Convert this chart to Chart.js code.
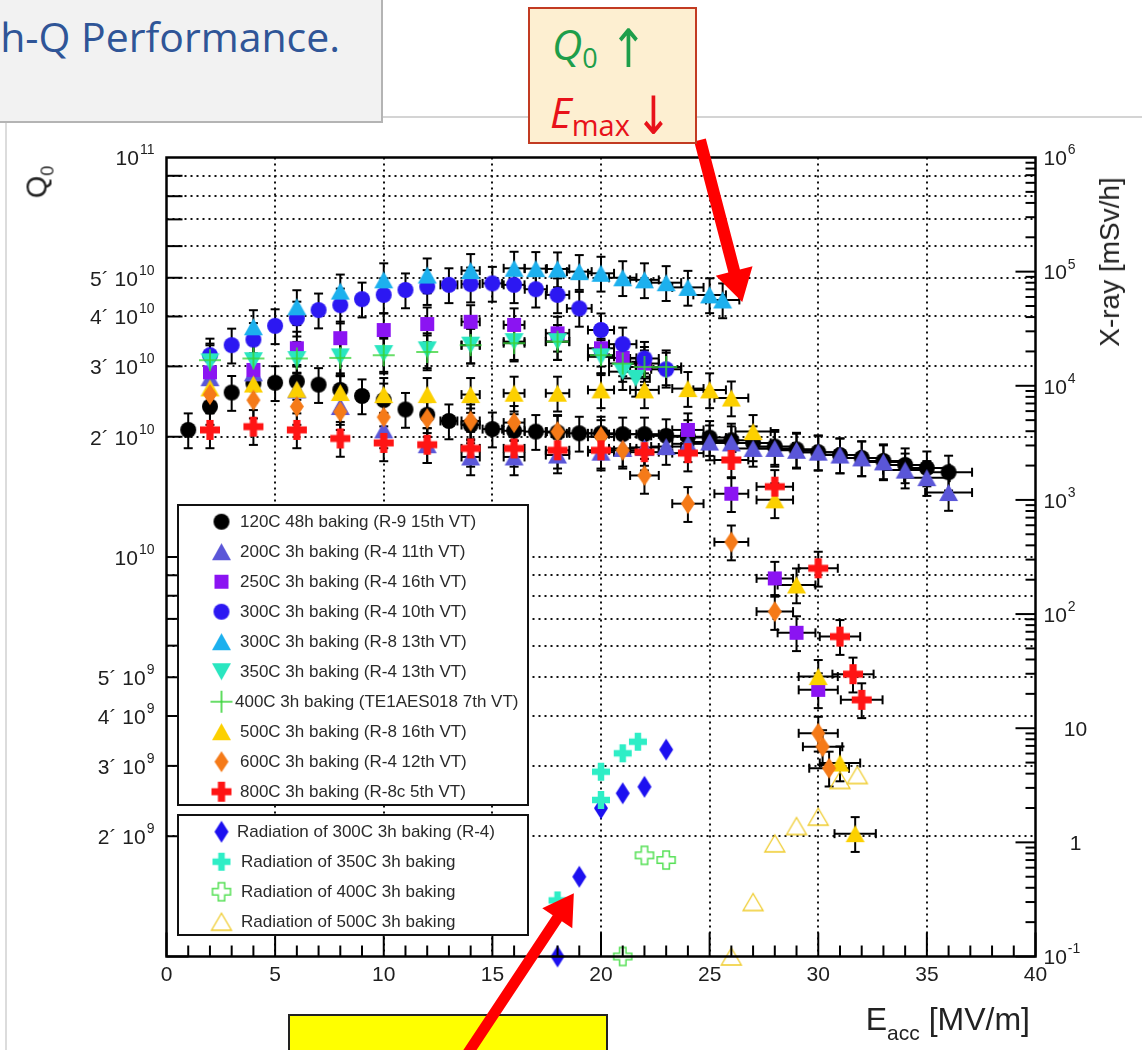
<!DOCTYPE html>
<html>
<head>
<meta charset="utf-8">
<script src="https://cdn.jsdelivr.net/npm/chart.js@4.4.1/dist/chart.umd.min.js"></script>
<style>
  body { margin: 0; width: 1142px; height: 1050px; overflow: hidden; background: #fff; font-family: "Liberation Sans", Arial, sans-serif; }
  #page { position: relative; width: 1142px; height: 1050px; }
  #plot { position: absolute; left: 0; top: 0; }
  .abs { position: absolute; white-space: nowrap; line-height: 1; }
  #titleBox { position: absolute; left: 0; top: 0; width: 381px; height: 121px; background: #f2f2f2; border-right: 2px solid #b4b4b4; border-bottom: 2px solid #b4b4b4; overflow: hidden; }
  #noteBox { position: absolute; left: 528px; top: 7px; width: 169px; height: 137px; box-sizing: border-box; background: #fdefd1; border: 2.5px solid #c23b22; font-family: "Open Sans", sans-serif; }
  #yellowBox { position: absolute; left: 288px; top: 1014px; width: 320px; height: 60px; box-sizing: border-box; background: #ffff00; border: 2px solid #222; }
  .arrowGlyph { font-family: "DejaVu Sans", sans-serif; font-size: 44px; position: absolute; line-height: 1; transform: scaleY(1.2); }
  .legendText { position: absolute; font-size: 17px; color: #2a2a2a; line-height: 20px; white-space: nowrap; }
</style>
</head>
<body>
<div id="page">
  <div id="yellowBox"></div>
  <canvas id="plot" width="1142" height="1050"></canvas>

  <div style="position:absolute;left:381px;top:116px;width:761px;height:2px;background:#d4d4d4"></div>
  <div style="position:absolute;left:5px;top:123px;width:2px;height:927px;background:#dcdcdc"></div>

  <div id="titleBox">
    <span class="abs" style="right:41px;top:16px;font-family:'Open Sans',sans-serif;font-size:41px;color:#2f5597">h-Q Performance.</span>
  </div>

  <div id="noteBox">
    <span class="abs" style="left:22px;top:14px;font-size:42px;color:#1e9e4a"><i>Q</i><span style="font-size:27px;position:relative;top:8px">0</span></span>
    <span class="arrowGlyph" style="left:80px;top:18px;color:#1e9e4a">↑</span>
    <span class="abs" style="left:20px;top:82px;font-size:42px;color:#e8121a"><i>E</i><span style="font-size:29px;position:relative;top:8px">max</span></span>
    <span class="arrowGlyph" style="left:105px;top:85px;color:#e8121a">↓</span>
  </div>

  <div class="abs" style="left:37px;top:182px;font-size:29px;color:#222;transform:translate(-50%,-50%) rotate(-90deg)">Q<span style="font-size:18px;position:relative;top:7px">0</span></div>
  <div class="abs" style="left:1110px;top:262px;font-size:28px;color:#222;transform:translate(-50%,-50%) rotate(-90deg)">X-ray [mSv/h]</div>
  <div class="abs" style="right:112px;top:1003px;font-size:32px;color:#222">E<span style="font-size:21px;position:relative;top:10px">acc</span> [MV/m]</div>
</div>

<script>
// Eacc [MV/m] and Q0 [x 1e10] per measurement
const E_120C = [1,2,3,4,5,6,7,8,9,10,11,12,13,14,15,16,17,18,19,20,21,22,23,24,25,26,27,28,29,30,31,32,33,34,35,36];
const Q_120C = [2.08,2.38,2.58,2.72,2.73,2.75,2.70,2.62,2.53,2.47,2.34,2.27,2.19,2.14,2.09,2.07,2.06,2.05,2.04,2.04,2.03,2.03,2.01,2.00,1.99,1.96,1.93,1.89,1.86,1.83,1.80,1.77,1.74,1.70,1.67,1.63];

const E_200C = [2,4,6,8,10,12,14,16,18,20,21,22,23,24,25,26,27,28,29,30,31,32,33,34,35,36];
const Q_200C = [2.81,2.89,2.62,2.38,2.08,1.91,1.78,1.78,1.80,1.83,1.87,1.88,1.89,1.92,1.94,1.93,1.87,1.87,1.85,1.83,1.80,1.77,1.73,1.65,1.58,1.45];

const E_250C = [2,4,6,8,10,12,14,16,18,20,21,22,24,26,28,29,30];
const Q_250C = [2.90,2.94,3.33,3.53,3.70,3.83,3.88,3.81,3.63,3.33,3.15,3.05,2.08,1.44,0.884,0.646,0.465];

const E_300C_R4 = [2,3,4,5,6,7,8,9,10,11,12,13,14,15,16,17,18,19,20,21,22,23];
const Q_300C_R4 = [3.20,3.39,3.50,3.79,3.96,4.15,4.27,4.42,4.53,4.66,4.75,4.80,4.82,4.84,4.80,4.68,4.53,4.19,3.70,3.41,3.14,2.95];

const E_300C_R8 = [4,6,8,10,12,14,16,17,18,19,20,21,22,23,24,25,25.6];
const Q_300C_R8 = [3.77,4.23,4.63,4.94,5.08,5.21,5.28,5.27,5.26,5.18,5.13,5.00,4.94,4.86,4.73,4.53,4.40];

const E_350C = [2,4,6,8,10,12,14,16,18,20,21,21.6];
const Q_350C = [3.08,3.10,3.12,3.17,3.23,3.30,3.39,3.46,3.46,3.17,2.91,2.80];

const E_400C = [2,4,6,8,10,12,14,16,18,20,21,22,23];
const Q_400C = [3.11,3.14,3.14,3.15,3.20,3.26,3.39,3.43,3.46,3.20,3.05,2.99,2.99];

const E_500C = [2,4,6,8,10,12,14,16,18,20,22,24,25,26,27,28,29,30,31,31.7];
const Q_500C = [2.65,2.71,2.63,2.58,2.55,2.55,2.55,2.57,2.57,2.62,2.62,2.64,2.62,2.50,2.06,1.39,0.851,0.502,0.305,0.203];

const E_600C = [2,4,6,8,10,12,14,16,18,20,21,22,24,26,28,30,30.2,30.5];
const Q_600C = [2.55,2.47,2.38,2.31,2.24,2.22,2.19,2.17,2.06,2.00,1.85,1.60,1.36,1.09,0.730,0.362,0.335,0.296];

const E_800C = [2,4,6,8,10,12,14,16,18,20,22,24,26,28,30,31,31.6,32];
const Q_800C = [2.08,2.12,2.08,1.98,1.93,1.91,1.87,1.87,1.85,1.85,1.83,1.82,1.75,1.50,0.937,0.632,0.509,0.439];

// radiation, X-ray [mSv/h] on the right axis
const E_RAD_300C = [18,19,20,21,22,23];
const X_RAD_300C = [0.1,0.5,1.99,2.69,3.07,6.5];
const E_RAD_350C = [18,20,20,21,21.7];
const X_RAD_350C = [0.31,2.35,4.16,6.03,7.62];
const E_RAD_400C = [21,22,23];
const X_RAD_400C = [0.1,0.77,0.70];
const E_RAD_500C = [26,27,28,29,30,31,31.8];
const X_RAD_500C = [0.1,0.30,0.98,1.39,1.68,3.52,3.89];

// measurement errors (relative)
const ERR_Q = 0.10;
const ERR_E = 0.03;

// axis ticks and labels ('^' starts the exponent)
const X_TICKS = [0,5,10,15,20,25,30,35,40];
const X_TICK_LABELS = ['0','5','10','15','20','25','30','35','40'];
const Q_TICKS = [2e9,3e9,4e9,5e9,1e10,2e10,3e10,4e10,5e10,1e11];
const Q_TICK_LABELS = ['2´ 10^9','3´ 10^9','4´ 10^9','5´ 10^9','10^10','2´ 10^10','3´ 10^10','4´ 10^10','5´ 10^10','10^11'];
const XRAY_TICKS = [0.1,1,10,100,1e3,1e4,1e5,1e6];
const XRAY_TICK_LABELS = ['10^-1','1','10','10^2','10^3','10^4','10^5','10^6'];

// ---- markers ----
function makeMarker(kind, color, w, h, lw) {
  const c = document.createElement('canvas');
  c.width = w + 4; c.height = h + 4;
  const g = c.getContext('2d');
  g.translate(c.width / 2, c.height / 2);
  g.fillStyle = color; g.strokeStyle = color; g.lineWidth = lw || 1.5;
  const plusPath = (t) => {
    const a = w / 2, b = t / 2;
    g.beginPath();
    g.moveTo(-b, -a); g.lineTo(b, -a); g.lineTo(b, -b); g.lineTo(a, -b); g.lineTo(a, b); g.lineTo(b, b);
    g.lineTo(b, a); g.lineTo(-b, a); g.lineTo(-b, b); g.lineTo(-a, b); g.lineTo(-a, -b); g.lineTo(-b, -b);
    g.closePath();
  };
  if (kind === 'circle') { g.beginPath(); g.arc(0, 0, w / 2, 0, Math.PI * 2); g.fill(); }
  else if (kind === 'tri' || kind === 'triOpen') {
    g.beginPath(); g.moveTo(0, -h / 2); g.lineTo(w / 2, h / 2); g.lineTo(-w / 2, h / 2); g.closePath();
    kind === 'tri' ? g.fill() : g.stroke();
  }
  else if (kind === 'triDown') { g.beginPath(); g.moveTo(0, h / 2); g.lineTo(w / 2, -h / 2); g.lineTo(-w / 2, -h / 2); g.closePath(); g.fill(); }
  else if (kind === 'square') { g.fillRect(-w / 2, -h / 2, w, h); }
  else if (kind === 'diamond') { g.beginPath(); g.moveTo(0, -h / 2); g.lineTo(w / 2, 0); g.lineTo(0, h / 2); g.lineTo(-w / 2, 0); g.closePath(); g.fill(); }
  else if (kind === 'plus') { g.beginPath(); g.moveTo(-w / 2, 0); g.lineTo(w / 2, 0); g.moveTo(0, -h / 2); g.lineTo(0, h / 2); g.stroke(); }
  else if (kind === 'cross') { plusPath(w * 0.36); g.fill(); }
  else if (kind === 'crossOpen') { plusPath(w * 0.36); g.stroke(); }
  return c;
}

const pts = (E, V, unit) => E.map((e, i) => ({ x: e, y: V[i] * unit }));

const SERIES = [
  { label: '120C 48h baking (R-9 15th VT)', data: pts(E_120C, Q_120C, 1e10), marker: makeMarker('circle', '#000000', 16, 16), axis: 'y', err: true },
  { label: '200C 3h baking (R-4 11th VT)', data: pts(E_200C, Q_200C, 1e10), marker: makeMarker('tri', '#5a56d8', 19, 17), axis: 'y', err: true },
  { label: '250C 3h baking (R-4 16th VT)', data: pts(E_250C, Q_250C, 1e10), marker: makeMarker('square', '#8b14f2', 14, 14), axis: 'y', err: true },
  { label: '300C 3h baking (R-4 10th VT)', data: pts(E_300C_R4, Q_300C_R4, 1e10), marker: makeMarker('circle', '#2c18f2', 16, 16), axis: 'y', err: true },
  { label: '300C 3h baking (R-8 13th VT)', data: pts(E_300C_R8, Q_300C_R8, 1e10), marker: makeMarker('tri', '#1cb0ee', 19, 17), axis: 'y', err: true },
  { label: '350C 3h baking (R-4 13th VT)', data: pts(E_350C, Q_350C, 1e10), marker: makeMarker('triDown', '#2ae6c0', 19, 17), axis: 'y', err: true },
  { label: '400C 3h baking (TE1AES018 7th VT)', data: pts(E_400C, Q_400C, 1e10), marker: makeMarker('plus', '#38d438', 22, 22, 1.6), axis: 'y', err: true },
  { label: '500C 3h baking (R-8 16th VT)', data: pts(E_500C, Q_500C, 1e10), marker: makeMarker('tri', '#fcd000', 19, 17), axis: 'y', err: true },
  { label: '600C 3h baking (R-4 12th VT)', data: pts(E_600C, Q_600C, 1e10), marker: makeMarker('diamond', '#f57a18', 14, 21), axis: 'y', err: true },
  { label: '800C 3h baking (R-8c 5th VT)', data: pts(E_800C, Q_800C, 1e10), marker: makeMarker('cross', '#ff1414', 20, 20), axis: 'y', err: true },
  { label: 'Radiation of 300C 3h baking (R-4)', data: pts(E_RAD_300C, X_RAD_300C, 1), marker: makeMarker('diamond', '#1c10f0', 14, 22), axis: 'y2', err: false },
  { label: 'Radiation of 350C 3h baking', data: pts(E_RAD_350C, X_RAD_350C, 1), marker: makeMarker('cross', '#2eeec6', 18, 18), axis: 'y2', err: false },
  { label: 'Radiation of 400C 3h baking', data: pts(E_RAD_400C, X_RAD_400C, 1), marker: makeMarker('crossOpen', '#55e055', 18, 18, 1.5), axis: 'y2', err: false },
  { label: 'Radiation of 500C 3h baking', data: pts(E_RAD_500C, X_RAD_500C, 1), marker: makeMarker('triOpen', '#efcb2a', 20, 17, 1.3), axis: 'y2', err: false }
];

// legend layout
const LEGEND_BOXES = [{ x0: 178, y0: 505, x1: 528, y1: 805 }, { x0: 178, y0: 815, x1: 528, y1: 935 }];
const LEGEND_ROWS = [521.7, 551.7, 581.7, 611.7, 641.7, 671.7, 701.7, 731.7, 761.7, 791.7, 831.7, 861.7, 891.7, 921.7];
const LEGEND_TEXT_X = [240, 240, 240, 240, 240, 240, 235, 240, 240, 240, 237, 241, 241, 241];
const LEGEND_MARK_X = 221.5;

SERIES.forEach((s, i) => {
  const d = document.createElement('div');
  d.className = 'legendText';
  d.style.left = LEGEND_TEXT_X[i] + 'px';
  d.style.top = (LEGEND_ROWS[i] - 10) + 'px';
  d.textContent = s.label;
  document.getElementById('page').appendChild(d);
});

function line(ctx, x0, y0, x1, y1) { ctx.beginPath(); ctx.moveTo(x0, y0); ctx.lineTo(x1, y1); ctx.stroke(); }

function supLabel(ctx, text, x, y, align) {
  const parts = text.split('^');
  ctx.font = '21px "Liberation Sans", Arial, sans-serif';
  const bw = ctx.measureText(parts[0]).width;
  ctx.font = '14px "Liberation Sans", Arial, sans-serif';
  const sw = parts[1] ? ctx.measureText(parts[1]).width + 1 : 0;
  const total = bw + sw;
  const x0 = align === 'right' ? x - total : align === 'center' ? x - total / 2 : x;
  ctx.textAlign = 'left'; ctx.textBaseline = 'middle'; ctx.fillStyle = '#1e1e1e';
  ctx.font = '21px "Liberation Sans", Arial, sans-serif';
  ctx.fillText(parts[0], x0, y);
  if (parts[1]) { ctx.font = '14px "Liberation Sans", Arial, sans-serif'; ctx.fillText(parts[1], x0 + bw + 1, y - 9); }
}

function arrow(ctx, x0, y0, x1, y1, w, hl, hw, color) {
  const ang = Math.atan2(y1 - y0, x1 - x0), len = Math.hypot(x1 - x0, y1 - y0);
  ctx.save(); ctx.translate(x0, y0); ctx.rotate(ang); ctx.fillStyle = color;
  ctx.beginPath();
  ctx.moveTo(0, -w / 2); ctx.lineTo(len - hl, -w / 2); ctx.lineTo(len - hl, -hw / 2); ctx.lineTo(len, 0);
  ctx.lineTo(len - hl, hw / 2); ctx.lineTo(len - hl, w / 2); ctx.lineTo(0, w / 2); ctx.closePath(); ctx.fill();
  ctx.restore();
}

const rootStyle = {
  id: 'rootStyle',
  beforeDatasetsDraw(chart) {
    const { ctx, chartArea: a, scales: { x, y } } = chart;
    ctx.save();
    ctx.beginPath(); ctx.rect(a.left, a.top, a.right - a.left, a.bottom - a.top); ctx.clip();
    // dotted grid
    ctx.strokeStyle = '#111'; ctx.lineWidth = 2; ctx.setLineDash([2, 4]);
    X_TICKS.slice(1, -1).forEach(v => { const p = Math.round(x.getPixelForValue(v)); line(ctx, p, a.top, p, a.bottom); });
    for (let n = 9; n <= 10; n++) for (let k = 1; k <= 9; k++) {
      const v = k * Math.pow(10, n);
      if (v <= y.min || v >= y.max) continue;
      const p = Math.round(y.getPixelForValue(v)); line(ctx, a.left, p, a.right, p);
    }
    ctx.setLineDash([]);
    ctx.restore();
    // error bars
    ctx.save(); ctx.strokeStyle = '#000'; ctx.lineWidth = 2;
    SERIES.forEach(s => {
      if (!s.err) return;
      s.data.forEach(d => {
        const px = x.getPixelForValue(d.x), py = y.getPixelForValue(d.y);
        const yt = y.getPixelForValue(d.y * (1 + ERR_Q)), yb = y.getPixelForValue(d.y * (1 - ERR_Q));
        line(ctx, px, yt, px, yb); line(ctx, px - 4.5, yt, px + 4.5, yt); line(ctx, px - 4.5, yb, px + 4.5, yb);
        const xl = x.getPixelForValue(d.x * (1 - ERR_E)), xr = x.getPixelForValue(d.x * (1 + ERR_E));
        if (xr - px > 8) { line(ctx, xl, py, xr, py); line(ctx, xl, py - 4.5, xl, py + 4.5); line(ctx, xr, py - 4.5, xr, py + 4.5); }
      });
    });
    ctx.restore();
  },
  afterDatasetsDraw(chart) {
    const { ctx, chartArea: a, scales: { x, y, y2 } } = chart;
    ctx.save();
    ctx.strokeStyle = '#000'; ctx.lineWidth = 2;
    for (let v = 0; v <= 40; v++) { const p = x.getPixelForValue(v); line(ctx, p, a.bottom, p, a.bottom - (v % 5 === 0 ? 24 : 11)); }
    for (let n = 9; n <= 10; n++) for (let k = 1; k <= 9; k++) {
      const p = y.getPixelForValue(k * Math.pow(10, n)); line(ctx, a.left, p, a.left + (k === 1 ? 22 : 16), p);
    }
    for (let n = -1; n <= 5; n++) for (let k = 1; k <= 9; k++) {
      const p = y2.getPixelForValue(k * Math.pow(10, n)); line(ctx, a.right, p, a.right - (k === 1 ? 20 : 10), p);
    }
    ctx.lineWidth = 2.5; ctx.strokeRect(a.left, a.top, a.right - a.left, a.bottom - a.top);
    X_TICKS.forEach((v, i) => supLabel(ctx, X_TICK_LABELS[i], x.getPixelForValue(v), a.bottom + 19, 'center'));
    Q_TICKS.forEach((v, i) => supLabel(ctx, Q_TICK_LABELS[i], a.left - 12, y.getPixelForValue(v) + 2, 'right'));
    XRAY_TICKS.forEach((v, i) => {
      const t = XRAY_TICK_LABELS[i];
      if (t.includes('^')) supLabel(ctx, t, a.right + 8, y2.getPixelForValue(v) + 2, 'left');
      else supLabel(ctx, t, a.right + 40, y2.getPixelForValue(v) + 2, 'center');
    });
    ctx.restore();
  },
  afterDraw(chart) {
    const { ctx, scales: { x, y } } = chart;
    ctx.save();
    LEGEND_BOXES.forEach(b => {
      ctx.fillStyle = '#fff'; ctx.fillRect(b.x0, b.y0, b.x1 - b.x0, b.y1 - b.y0);
      ctx.strokeStyle = '#111'; ctx.lineWidth = 2; ctx.strokeRect(b.x0, b.y0, b.x1 - b.x0, b.y1 - b.y0);
    });
    SERIES.forEach((s, i) => {
      const m = s.marker;
      ctx.drawImage(m, LEGEND_MARK_X - m.width / 2, LEGEND_ROWS[i] - m.height / 2);
    });
    // annotation arrows
    arrow(ctx, 700, 140, x.getPixelForValue(26.5), y.getPixelForValue(4.35e10), 12, 32, 38, '#ff0000');
    arrow(ctx, 462, 1062, x.getPixelForValue(18.75), y.getPixelForValue(1.44e9), 11, 30, 36, '#ff0000');
    ctx.restore();
  }
};

const n = SERIES.length;
new Chart(document.getElementById('plot'), {
  type: 'scatter',
  data: {
    datasets: SERIES.map((s, i) => ({
      label: s.label,
      data: s.data,
      yAxisID: s.axis,
      pointStyle: s.marker,
      pointRadius: 8,
      order: n - i,
      clip: false
    }))
  },
  options: {
    responsive: false,
    animation: false,
    events: [],
    layout: { padding: { top: 157.5, left: 0, right: 0, bottom: 0 } },
    plugins: { legend: { display: false }, tooltip: { enabled: false } },
    scales: {
      x: { type: 'linear', min: 0, max: 40, grid: { display: false }, border: { display: false }, ticks: { display: false }, afterFit: s => { s.height = 93.5; } },
      y: { type: 'logarithmic', position: 'left', min: 1e9, max: 1e11, grid: { display: false }, border: { display: false }, ticks: { display: false }, afterFit: s => { s.width = 166.5; } },
      y2: { type: 'logarithmic', position: 'right', min: 0.1, max: 1e6, grid: { display: false }, border: { display: false }, ticks: { display: false }, afterFit: s => { s.width = 106.5; } }
    }
  },
  plugins: [rootStyle]
});
</script>
</body>
</html>
